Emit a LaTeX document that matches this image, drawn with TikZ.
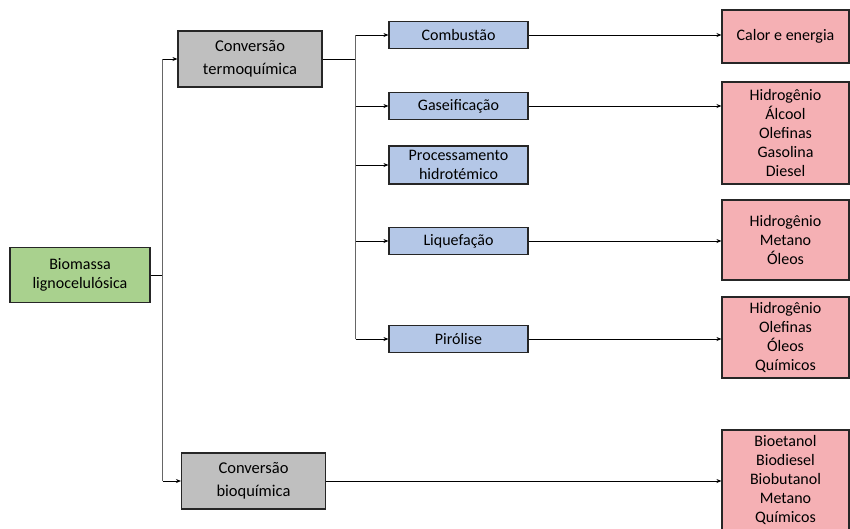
\documentclass[tikz,border=0pt]{standalone}
\usepackage{fontspec}
\setmainfont{Carlito}
\usetikzlibrary{positioning,arrows.meta}

\definecolor{srcgreen}{HTML}{A9D18E}
\definecolor{routegray}{HTML}{BFBFBF}
\definecolor{procblue}{HTML}{B4C7E7}
\definecolor{prodpink}{HTML}{F5B0B4}

\begin{document}
\begin{tikzpicture}[x=1pt,y=-1pt,
  box/.style={draw=black!85,line width=1.1pt,align=center,inner sep=0pt,
    font=\fontsize{16}{19}\selectfont},
  source/.style={box,fill=srcgreen,minimum width=140pt,minimum height=55pt},
  route/.style={box,fill=routegray,minimum width=144pt,minimum height=56pt,
    font=\fontsize{16.5}{23}\selectfont},
  process/.style={box,fill=procblue,minimum width=139pt,minimum height=27pt},
  product/.style={box,fill=prodpink,minimum width=127pt},
  link/.style={-{Stealth[length=5pt,width=4pt]},line width=0.8pt},
  bus/.style={line width=1.3pt,black!60},
]
\clip (0,0) rectangle (850,528);
\useasboundingbox (0,0) rectangle (850,528);

% Feedstock
\node[source] (biomass) at (80,275) {Biomassa\\lignocelulósica};

% Conversion routes
\node[route] (thermo) at (250,59) {Conversão\\termoquímica};
\node[route] (bio) at (253.5,481) {Conversão\\bioquímica};

% Thermochemical processes
\node[process] (comb) at (458.5,35) {Combustão};
\node[process] (gasif) at (458.5,106) {Gaseificação};
\node[process,minimum height=38pt] (hydro) at (458.5,165) {Processamento\\hidrotémico};
\node[process] (liquef) at (458.5,241) {Liquefação};
\node[process] (pyro) at (458.5,339) {Pirólise};

% Products
\node[product,minimum height=53pt] (heat) at (785.5,36.5) {Calor e energia};
\node[product,minimum height=102pt] (gasprod) at (785.5,133) {Hidrogênio\\Álcool\\Olefinas\\Gasolina\\Diesel};
\node[product,minimum height=80pt] (liqprod) at (785.5,240) {Hidrogênio\\Metano\\Óleos};
\node[product,minimum height=81pt] (pyroprod) at (785.5,337.5) {Hidrogênio\\Olefinas\\Óleos\\Químicos};
\node[product,minimum height=100pt] (bioprod) at (785.5,480) {Bioetanol\\Biodiesel\\Biobutanol\\Metano\\Químicos};

% Biomass -> routes
\draw[line width=0.8pt] (biomass.east) -- ++(12,0) coordinate (split);
\draw[bus] (split |- thermo) -- (split |- bio);
\draw[link] (split |- thermo) -- (thermo.west);
\draw[link] (split |- bio) -- (bio.west);

% Thermochemical route -> processes
\draw[line width=0.8pt] (thermo.east) -- ++(33,0) coordinate (fork);
\draw[bus] (fork |- comb) -- (fork |- pyro);
\foreach \p in {comb,gasif,hydro,liquef,pyro}
  \draw[link] (fork |- \p) -- (\p.west);

% Processes -> products
\draw[link] (comb.east) -- (comb.east -| heat.west);
\draw[link] (gasif.east) -- (gasif.east -| gasprod.west);
\draw[link] (liquef.east) -- (liquef.east -| liqprod.west);
\draw[link] (pyro.east) -- (pyro.east -| pyroprod.west);
\draw[link] (bio.east) -- (bio.east -| bioprod.west);

\end{tikzpicture}
\end{document}
